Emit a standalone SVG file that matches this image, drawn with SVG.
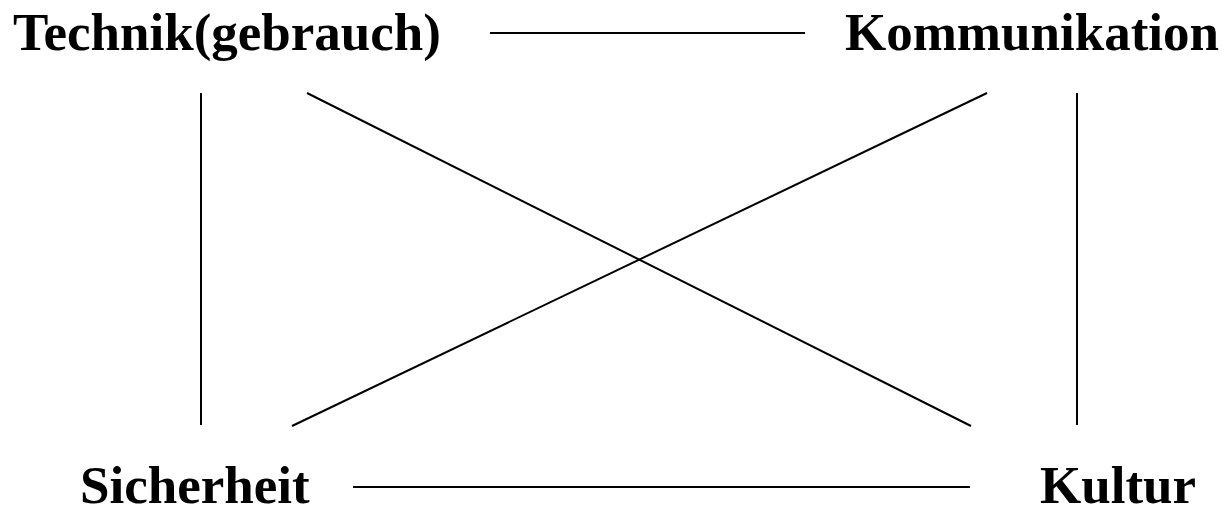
<svg xmlns="http://www.w3.org/2000/svg" width="1229" height="515" viewBox="0 0 1229 515">
<style>
.lbl{font-family:"Liberation Serif","Times New Roman",serif;font-weight:bold;font-size:53px;fill:#000}
.ln{stroke:#000;stroke-width:2;fill:none}
</style>
<rect width="1229" height="515" fill="#fff"/>
<g id="connectors">
<line class="ln" x1="490" y1="33" x2="805" y2="33"/>
<line class="ln" x1="353" y1="487" x2="970" y2="487"/>
<line class="ln" x1="201" y1="93" x2="201" y2="425"/>
<line class="ln" x1="1077" y1="93" x2="1077" y2="425"/>
<line class="ln" x1="307" y1="93" x2="971" y2="426"/>
<line class="ln" x1="987" y1="93" x2="292" y2="426"/>
</g>
<g id="technik"><text class="lbl" x="13" y="50">Technik(gebrauch)</text></g>
<g id="kommunikation"><text class="lbl" x="845" y="50">Kommunikation</text></g>
<g id="sicherheit"><text class="lbl" x="80" y="503">Sicherheit</text></g>
<g id="kultur"><text class="lbl" x="1040" y="503">Kultur</text></g>
</svg>
